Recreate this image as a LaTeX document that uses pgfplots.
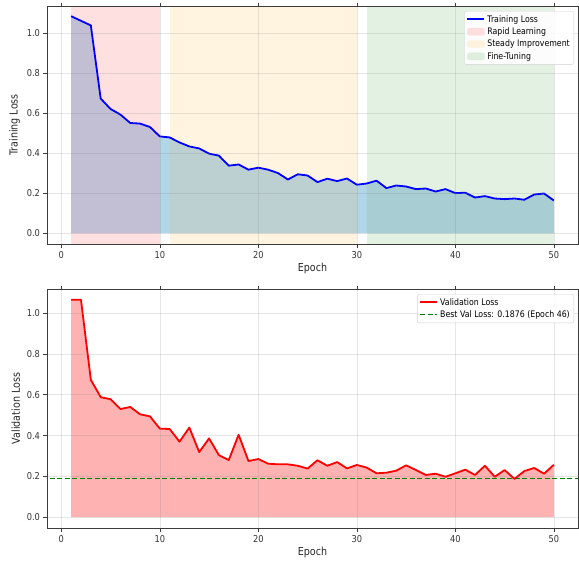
\documentclass[border=0pt]{standalone}
\usepackage{fontspec}
\setmainfont{DejaVu Sans}[FakeStretch=0.87]
\usepackage{pgfplots}
\pgfplotsset{compat=1.18}

\definecolor{spanred}{RGB}{255,0,0}
\definecolor{spanorange}{RGB}{255,165,0}
\definecolor{spangreen}{RGB}{0,128,0}
\definecolor{fillgap}{RGB}{176,214,232}
\definecolor{fillred}{RGB}{194,190,212}
\definecolor{fillorange}{RGB}{188,208,210}
\definecolor{fillgreen}{RGB}{168,205,210}
\definecolor{framegray}{RGB}{60,60,60}

\pgfplotsset{
  lossaxis/.style={
    scale only axis,
    width=531pt, height=238pt,
    xmin=-1.45, xmax=52.45,
    xtick={0,10,20,30,40,50},
    ytick={0,0.2,0.4,0.6,0.8,1.0},
    yticklabel style={/pgf/number format/.cd, fixed, fixed zerofill, precision=1},
    /pgf/number format/assume math mode=true,
    ticklabel style={font=\fontsize{9.5}{11}\selectfont, text=black!80},
    tick align=outside, tick style={framegray, line width=0.6pt},
    major tick length=3.5pt,
    axis line style={framegray, line width=0.8pt},
    grid=major, major grid style={gray, opacity=0.2, line width=0.6pt},
    xlabel={Epoch},
    label style={font=\fontsize{11}{13}\selectfont, text=black!85},
    xlabel style={yshift=2pt},
    legend cell align=left,
    legend style={at={(1,1)}, xshift=-4pt, yshift=-5pt, anchor=north east,
      font=\fontsize{9}{10.5}\selectfont, draw=black!18, rounded corners=2pt,
      fill=white, fill opacity=0.85, text opacity=1, inner sep=2pt},
    axis on top,
  }
}

\pgfplotstableread{
epoch loss
1 1.083
2 1.060
3 1.037
4 0.672
5 0.620
6 0.592
7 0.550
8 0.547
9 0.530
10 0.483
11 0.478
12 0.453
13 0.433
14 0.423
15 0.397
16 0.387
17 0.337
18 0.343
19 0.317
20 0.327
21 0.317
22 0.300
23 0.268
24 0.294
25 0.288
26 0.255
27 0.272
28 0.260
29 0.273
30 0.242
31 0.248
32 0.262
33 0.225
34 0.238
35 0.233
36 0.220
37 0.223
38 0.208
39 0.220
40 0.200
41 0.202
42 0.178
43 0.185
44 0.173
45 0.170
46 0.173
47 0.167
48 0.193
49 0.198
50 0.163
}\trainloss

\pgfplotstableread{
epoch loss
1 1.065
2 1.065
3 0.673
4 0.588
5 0.578
6 0.530
7 0.540
8 0.504
9 0.494
10 0.434
11 0.432
12 0.370
13 0.439
14 0.319
15 0.386
16 0.304
17 0.280
18 0.404
19 0.275
20 0.285
21 0.262
22 0.259
23 0.259
24 0.252
25 0.238
26 0.279
27 0.252
28 0.270
29 0.239
30 0.256
31 0.243
32 0.215
33 0.218
34 0.228
35 0.254
36 0.231
37 0.207
38 0.213
39 0.198
40 0.215
41 0.233
42 0.207
43 0.252
44 0.198
45 0.231
46 0.1876
47 0.226
48 0.241
49 0.213
50 0.257
}\valloss

\begin{document}
\begin{tikzpicture}
\useasboundingbox (-47pt,-557pt) rectangle (532pt,6pt);

% training loss with phase bands
\begin{axis}[lossaxis, at={(0pt,0pt)}, anchor=north west,
    ymin=-0.054, ymax=1.134,
    ylabel={Training Loss}]
  % phase bands
  \addplot[draw=none, fill=spanred, fill opacity=0.12, forget plot]
    coordinates {(1,-1) (1,2) (10,2) (10,-1)} -- cycle;
  \addplot[draw=none, fill=spanorange, fill opacity=0.12, forget plot]
    coordinates {(11,-1) (11,2) (30,2) (30,-1)} -- cycle;
  \addplot[draw=none, fill=spangreen, fill opacity=0.11, forget plot]
    coordinates {(31,-1) (31,2) (50,2) (50,-1)} -- cycle;
  % area under the curve, tinted per phase
  \addplot[draw=none, fill=fillgap, forget plot] table[x=epoch, y=loss] {\trainloss} \closedcycle;
  \addplot[draw=none, fill=fillred, forget plot, restrict x to domain=1:10]
    table[x=epoch, y=loss] {\trainloss} \closedcycle;
  \addplot[draw=none, fill=fillorange, forget plot, restrict x to domain=11:30]
    table[x=epoch, y=loss] {\trainloss} \closedcycle;
  \addplot[draw=none, fill=fillgreen, forget plot, restrict x to domain=31:50]
    table[x=epoch, y=loss] {\trainloss} \closedcycle;
  \addplot[blue, line width=1.8pt, line join=round, forget plot] table[x=epoch, y=loss] {\trainloss};

  \addlegendimage{legend image code/.code={\draw[blue, line width=1.8pt] (0cm,0cm) -- (0.6cm,0cm);}}
  \addlegendentry{Training Loss}
  \addlegendimage{legend image code/.code={\fill[spanred!15] (0cm,-3.5pt) rectangle (0.6cm,3.5pt);}}
  \addlegendentry{Rapid Learning}
  \addlegendimage{legend image code/.code={\fill[spanorange!15] (0cm,-3.5pt) rectangle (0.6cm,3.5pt);}}
  \addlegendentry{Steady Improvement}
  \addlegendimage{legend image code/.code={\fill[spangreen!14] (0cm,-3.5pt) rectangle (0.6cm,3.5pt);}}
  \addlegendentry{Fine-Tuning}
\end{axis}

% validation loss
\begin{axis}[lossaxis, at={(0pt,-283pt)}, anchor=north west,
    height=239pt,
    ymin=-0.053, ymax=1.118,
    ylabel={Validation Loss}]
  \addplot[draw=none, fill=red, fill opacity=0.3, forget plot] table[x=epoch, y=loss] {\valloss} \closedcycle;
  \addplot[red, line width=1.8pt, line join=round, forget plot] table[x=epoch, y=loss] {\valloss};
  \addplot[spangreen, dash pattern=on 5pt off 2.5pt, line width=1.2pt, forget plot]
    coordinates {(-5,0.1876) (60,0.1876)};

  \addlegendimage{legend image code/.code={\draw[red, line width=1.8pt] (0cm,0cm) -- (0.6cm,0cm);}}
  \addlegendentry{Validation Loss}
  \addlegendimage{legend image code/.code={\draw[spangreen, dash pattern=on 5pt off 2.5pt, line width=1.2pt] (0cm,0cm) -- (0.6cm,0cm);}}
  \addlegendentry{Best Val Loss: 0.1876 (Epoch 46)}
\end{axis}
\end{tikzpicture}
\end{document}
